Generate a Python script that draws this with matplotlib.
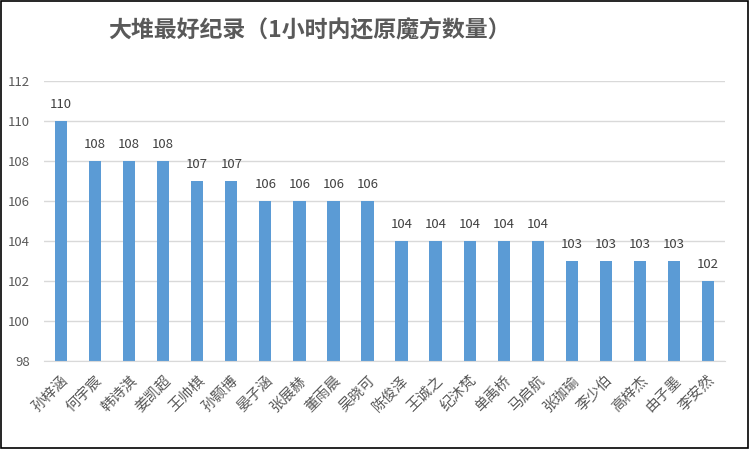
import matplotlib.pyplot as plt
from matplotlib.patches import Rectangle

plt.rcParams['font.family'] = ['Noto Sans CJK SC', 'DejaVu Sans']

names = ["孙梓涵", "何宇宸", "韩诗淇", "姜凯超", "王帅棋", "孙颢博", "晏子涵",
         "张展赫", "董雨晨", "吴晓可", "陈俊泽", "王诚之", "纪沐梵", "单禹桥",
         "马启航", "张珈瑜", "李少伯", "高梓杰", "由子墨", "李安然"]
records = [110, 108, 108, 108, 107, 107, 106, 106, 106, 106,
           104, 104, 104, 104, 104, 103, 103, 103, 103, 102]
y_ticks = [98, 100, 102, 104, 106, 108, 110, 112]

title = "大堆最好纪录（1小时内还原魔方数量）"
bar_color = "#5B9BD5"
text_color = "#595959"

fig = plt.figure(figsize=(7.5, 4.49), dpi=100)
ax = fig.add_axes([0.0587, 0.196, 0.908, 0.6236])

x = range(len(names))
ax.bar(x, [r - 98 for r in records], bottom=98, width=0.36, color=bar_color, zorder=3)
for i, r in zip(x, records):
    ax.text(i, r + 0.5, str(r), ha="center", va="bottom", fontsize=9.5,
            color="#404040")

ax.set_xlim(-0.5, len(names) - 0.5)
ax.set_ylim(98, 112)
ax.set_yticks(y_ticks)
ax.set_yticklabels([str(v) for v in y_ticks], fontsize=9.5, color=text_color)
ax.set_xticks(list(x))
ax.set_xticklabels(names, rotation=45, ha="right", rotation_mode="anchor",
                   fontsize=10.5, color=text_color)
ax.tick_params(axis="both", length=0)
ax.tick_params(axis="x", pad=9)
ax.tick_params(axis="y", pad=10)
ax.grid(axis="y", color="#D9D9D9", linewidth=1, zorder=0)
for side in ["top", "right", "left"]:
    ax.spines[side].set_visible(False)
ax.spines["bottom"].set_color("#D9D9D9")
ax.spines["bottom"].set_zorder(4)

fig.text(0.413, 0.93, title, ha="center", va="center", fontsize=16.5,
         fontweight="bold", color=text_color)

fig.patches.append(Rectangle((0.001, 0.002), 0.996, 0.995, transform=fig.transFigure,
                             fill=False, edgecolor="black", linewidth=1.2))

fig.savefig("out.png", dpi=100)
